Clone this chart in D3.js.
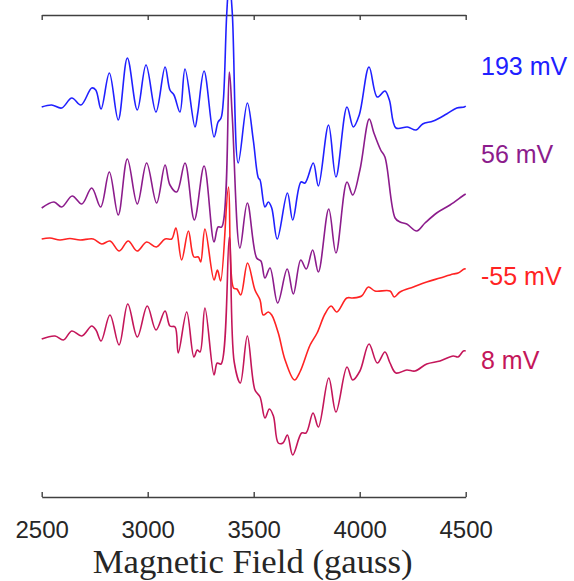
<!DOCTYPE html>
<html>
<head>
    <title>epr spectra</title>
    <script src="https://d3js.org/d3.v7.min.js"></script>
    <style>
        body { margin: 0; background: #fff; }
        .axis path, .axis line { stroke: #404040; stroke-width: 1.4; }
        .axis text { font-family: "Liberation Sans", Arial, sans-serif; font-size: 24px; fill: #262626; }
        .spectrum { fill: none; stroke-width: 1.6; stroke-linejoin: round; }
        .trace-label { font-family: "Liberation Sans", Arial, sans-serif; font-size: 25px; }
        .x-title { font-family: "Liberation Serif", "Times New Roman", serif; fill: #262626; }
    </style>
</head>
<body>
<script>

    // field ticks (gauss)
    var fieldTicks = [2500, 3000, 3500, 4000, 4500];

    // spectra: [field (gauss), intensity (a.u.)], each relative to its own baseline
    var blue193 = [
        [2500, 0.00], [2547, 0.02], [2594, -0.01], [2642, 0.09], [2685, 0.02], [2736, 0.19], [2755, 0.17],
        [2780, -0.02], [2819, 0.34], [2861, -0.13], [2904, 0.49], [2951, -0.03], [2992, 0.42], [3039, -0.05],
        [3082, 0.40], [3105, 0.17], [3124, 0.12], [3152, -0.05], [3176, 0.38], [3223, -0.20], [3236, -0.06],
        [3266, 0.36], [3313, -0.30], [3332, -0.15], [3346, -0.11], [3357, 0.07], [3373, 0.94], [3385, 1.27],
        [3399, 0.94], [3427, -0.56], [3470, 0.04], [3498, -0.33], [3522, -0.71], [3530, -0.73], [3553, -1.00],
        [3569, -0.95], [3585, -1.01], [3611, -1.32], [3659, -0.86], [3684, -1.13], [3723, -0.75], [3742, -0.76],
        [3781, -0.56], [3805, -0.79], [3853, -0.18], [3888, -0.70], [3940, 0.00], [3970, -0.20], [3998, -0.08],
        [4044, 0.40], [4083, 0.10], [4119, 0.16], [4140, 0.07], [4171, -0.21], [4225, -0.20], [4266, -0.23],
        [4297, -0.17], [4347, -0.14], [4410, -0.07], [4458, -0.01], [4493, 0.00], [4500, 0.01]
    ];

    var purple56 = [
        [2500, 0.00], [2558, 0.06], [2594, 0.01], [2644, 0.12], [2689, 0.04], [2736, 0.20], [2778, 0.01],
        [2819, 0.36], [2861, -0.07], [2904, 0.49], [2951, 0.04], [2995, 0.45], [3042, 0.05], [3082, 0.43],
        [3105, 0.23], [3137, 0.16], [3176, 0.45], [3220, -0.12], [3266, 0.42], [3313, -0.34], [3332, -0.19],
        [3349, -0.19], [3385, 1.36], [3399, 0.91], [3435, -0.40], [3470, 0.05], [3514, -0.50], [3534, -0.53],
        [3553, -0.70], [3577, -0.60], [3613, -0.95], [3658, -0.61], [3687, -0.86], [3722, -0.52], [3748, -0.61],
        [3778, -0.42], [3805, -0.64], [3854, -0.01], [3888, -0.45], [3940, 0.26], [3967, 0.13], [4001, 0.38],
        [4045, 0.89], [4067, 0.75], [4099, 0.58], [4119, 0.51], [4167, -0.10], [4190, -0.14], [4222, -0.16],
        [4269, -0.23], [4308, -0.15], [4363, -0.05], [4426, 0.03], [4492, 0.13], [4500, 0.14]
    ];

    var redM55 = [
        [2500, 0.00], [2539, 0.01], [2586, -0.01], [2633, 0.005], [2681, -0.01], [2743, 0.00], [2783, -0.05],
        [2822, -0.02], [2866, -0.12], [2908, -0.02], [2950, -0.12], [2995, -0.03], [3041, -0.08], [3082, 0.00],
        [3113, 0.00], [3133, 0.11], [3160, -0.21], [3192, 0.08], [3218, -0.18], [3239, -0.18], [3250, -0.23],
        [3270, 0.10], [3313, -0.41], [3329, -0.31], [3344, -0.42], [3381, 0.52], [3405, -0.49], [3421, -0.50],
        [3439, -0.56], [3471, -0.24], [3506, -0.51], [3530, -0.61], [3545, -0.76], [3569, -0.73], [3585, -0.76],
        [3616, -0.94], [3648, -1.21], [3692, -1.41], [3718, -1.33], [3766, -1.06], [3799, -0.94], [3836, -0.75],
        [3865, -0.67], [3892, -0.73], [3939, -0.59], [3966, -0.59], [4009, -0.57], [4041, -0.48], [4072, -0.52],
        [4143, -0.52], [4163, -0.58], [4190, -0.53], [4253, -0.48], [4316, -0.43], [4379, -0.39], [4441, -0.35],
        [4464, -0.34], [4493, -0.30], [4500, -0.30]
    ];

    var crimson8 = [
        [2500, 0.00], [2563, 0.03], [2602, -0.01], [2642, 0.08], [2689, 0.03], [2736, 0.13], [2756, 0.09],
        [2780, -0.02], [2822, 0.24], [2865, -0.06], [2906, 0.35], [2951, 0.02], [2998, 0.33], [3039, 0.09],
        [3082, 0.28], [3105, 0.13], [3129, 0.12], [3144, -0.14], [3184, 0.27], [3218, -0.18], [3234, -0.11],
        [3247, -0.13], [3270, 0.31], [3313, -0.36], [3328, -0.24], [3346, -0.25], [3385, 1.02], [3408, -0.23],
        [3437, -0.44], [3470, 0.03], [3506, -0.51], [3530, -0.58], [3553, -0.79], [3574, -0.70], [3593, -0.77],
        [3616, -1.04], [3638, -1.04], [3659, -0.96], [3684, -1.16], [3726, -0.94], [3747, -0.94], [3780, -0.74],
        [3805, -0.88], [3854, -0.39], [3888, -0.73], [3940, -0.28], [3967, -0.41], [4001, -0.32], [4044, -0.05],
        [4083, -0.24], [4119, -0.13], [4143, -0.24], [4171, -0.34], [4222, -0.31], [4261, -0.32], [4316, -0.25],
        [4379, -0.22], [4441, -0.17], [4464, -0.18], [4489, -0.12], [4500, -0.12]
    ];

    var traceLabels = ["193 mV", "56 mV", "-55 mV", "8 mV"];
    var traceOffsets = [3.90, 2.89, 2.58, 1.58];
    var labelLevels = [4.22, 3.34, 2.12, 1.28];
    var traceColors = ["#2020ff", "#8c1c8c", "#ff2323", "#c4165a"];
    var traces = [blue193, purple56, redM55, crimson8];

    var width = 574, height = 581;
    var plotLeft = 41.7, plotRight = 465.7, plotTop = 15, plotBottom = 497;

    var svg = d3.select("body").append("svg")
        .attr("width", width)
        .attr("height", height);

    var x = d3.scaleLinear().domain([2500, 4500]).range([plotLeft, plotRight]);
    var y = d3.scaleLinear().domain([0, 4.82]).range([plotBottom, plotTop]);

    // top frame line, ticks pointing in
    svg.append("g")
        .attr("class", "axis")
        .attr("transform", "translate(0," + plotTop + ")")
        .call(d3.axisBottom(x).tickValues(fieldTicks).tickSizeInner(5).tickSizeOuter(0).tickFormat(""));

    // bottom axis, ticks pointing in, labels below
    svg.append("g")
        .attr("class", "axis")
        .attr("transform", "translate(0," + plotBottom + ")")
        .call(d3.axisBottom(x).tickValues(fieldTicks).tickSizeInner(-5).tickSizeOuter(0).tickPadding(24).tickFormat(d3.format("d")));

    var line = d3.line().curve(d3.curveCatmullRom.alpha(0.5));

    traces.forEach(function (d, i) {
        svg.append("path")
            .attr("class", "spectrum")
            .attr("stroke", traceColors[i])
            .attr("d", line(d.map(function (p) {
                return [x(p[0]), y(p[1] + traceOffsets[i])];
            })));
    });

    svg.selectAll(".trace-label")
        .data(traceLabels)
        .enter().append("text")
        .attr("class", "trace-label")
        .attr("x", 481)
        .attr("y", function (d, i) { return y(labelLevels[i]); })
        .attr("fill", function (d, i) { return traceColors[i]; })
        .text(function (d) { return d; });

    var title = svg.append("text")
        .attr("class", "x-title")
        .attr("x", (plotLeft + plotRight) / 2 - 1)
        .attr("y", 573)
        .attr("text-anchor", "middle")
        .style("font-size", "30px")
        .text("Magnetic Field (gauss)");

    // fit title to its width in the reference
    var w = title.node().getComputedTextLength();
    title.style("font-size", (30 * 320 / w) + "px");

</script>
</body>
</html>
